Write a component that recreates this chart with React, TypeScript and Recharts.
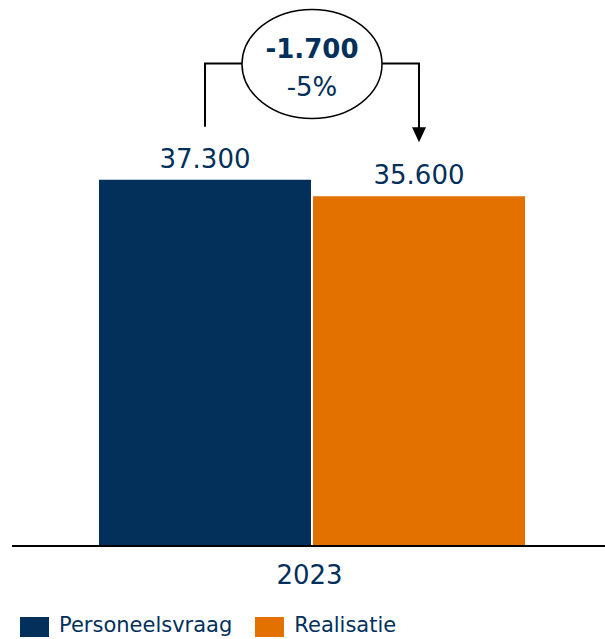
import { Bar, BarChart, LabelList, Legend, XAxis, YAxis } from "recharts";

const categories = ["2023"];
const personeelsvraag = [37300];
const realisatie = [35600];
const seriesNames = ["Personeelsvraag", "Realisatie"];
const yDomain = [0, 45000];

const NAVY = "#02305a";
const ORANGE = "#e37100";
const FONT = "Verdana, 'DejaVu Sans', sans-serif";
const BAR_GAP = 2;

const data = categories.map((c, i) => ({
  year: c,
  vraag: personeelsvraag[i],
  realisatie: realisatie[i],
}));

// 37300 -> "37.300"
const fmt = (v: number) =>
  (v < 0 ? "-" : "") +
  Math.abs(Math.round(v))
    .toString()
    .replace(/\B(?=(\d{3})+(?!\d))/g, ".");

// bracket + ellipse drawn from the orange bar's geometry
function DeltaAnnotation(props: any) {
  const vb = props.viewBox ?? props;
  const { x, y, width, height } = vb;
  const i = props.index ?? 0;
  const base = y + height;
  const perUnit = height / realisatie[i];
  const navyTop = base - personeelsvraag[i] * perUnit;
  const leftX = x - BAR_GAP - width / 2;
  const rightX = x + width / 2;
  const cx = (leftX + rightX) / 2;
  const cy = 64;
  const rx = 70;
  const ry = 54.5;
  const lineY = 63.5;
  const tipY = y - 54;
  const diff = realisatie[i] - personeelsvraag[i];
  const pct = Math.round((diff / personeelsvraag[i]) * 100);
  return (
    <g>
      <path
        d={`M${leftX},${navyTop - 53} V${lineY} H${cx - rx}`}
        fill="none"
        stroke="#000"
        strokeWidth={2}
      />
      <path
        d={`M${cx + rx},${lineY} H${rightX} V${tipY - 14}`}
        fill="none"
        stroke="#000"
        strokeWidth={2}
      />
      <polygon
        points={`${rightX - 7},${tipY - 15} ${rightX + 7},${tipY - 15} ${rightX},${tipY}`}
        fill="#000"
      />
      <ellipse cx={cx} cy={cy} rx={rx} ry={ry} fill="#fff" stroke="#000" strokeWidth={1.5} />
      <text x={cx} y={cy - 6} textAnchor="middle" fill={NAVY} fontFamily={FONT} fontSize={26} fontWeight="bold">
        {fmt(diff)}
      </text>
      <text x={cx} y={cy + 32} textAnchor="middle" fill={NAVY} fontFamily={FONT} fontSize={26}>
        {`${pct}%`}
      </text>
    </g>
  );
}

function LegendContent() {
  const colors = [NAVY, ORANGE];
  return (
    <div
      style={{
        display: "flex",
        paddingLeft: 20,
        paddingTop: 8,
        fontFamily: FONT,
        fontSize: 21,
        lineHeight: "24px",
        color: NAVY,
      }}
    >
      {seriesNames.map((n, i) => (
        <div key={n} style={{ display: "flex", alignItems: "flex-start", marginRight: 23 }}>
          <span style={{ display: "block", width: 29, height: 20, background: colors[i], marginRight: 10 }} />
          <span style={{ marginTop: -4 }}>{n}</span>
        </div>
      ))}
    </div>
  );
}

export default function App() {
  return (
    <div
      style={{
        position: "absolute",
        left: 0,
        top: 0,
        width: 605,
        height: 639,
        overflow: "hidden",
        background: "#fff",
        fontFamily: FONT,
      }}
    >
      <BarChart
        width={605}
        height={639}
        data={data}
        margin={{ top: 104, right: -6, bottom: 0, left: 12 }}
        barGap={BAR_GAP}
        barSize={212}
      >
        <XAxis
          dataKey="year"
          axisLine={{ stroke: "#000", strokeWidth: 2 }}
          tickLine={false}
          tickSize={0}
          tickMargin={20}
          height={63}
          tick={{ fontSize: 26, fill: NAVY, fontFamily: FONT, dx: -2 }}
        />
        <YAxis hide domain={yDomain} />
        <Legend
          verticalAlign="bottom"
          height={30}
          wrapperStyle={{ left: 0, width: 605, height: 30 }}
          content={<LegendContent />}
        />
        <Bar dataKey="vraag" name={seriesNames[0]} fill={NAVY} isAnimationActive={false}>
          <LabelList
            dataKey="vraag"
            position="top"
            offset={12}
            formatter={(v: any) => fmt(Number(v))}
            fill={NAVY}
            fontSize={26}
            fontFamily={FONT}
          />
        </Bar>
        <Bar dataKey="realisatie" name={seriesNames[1]} fill={ORANGE} isAnimationActive={false}>
          <LabelList
            dataKey="realisatie"
            position="top"
            offset={12}
            formatter={(v: any) => fmt(Number(v))}
            fill={NAVY}
            fontSize={26}
            fontFamily={FONT}
          />
          <LabelList dataKey="realisatie" content={<DeltaAnnotation />} />
        </Bar>
      </BarChart>
    </div>
  );
}
